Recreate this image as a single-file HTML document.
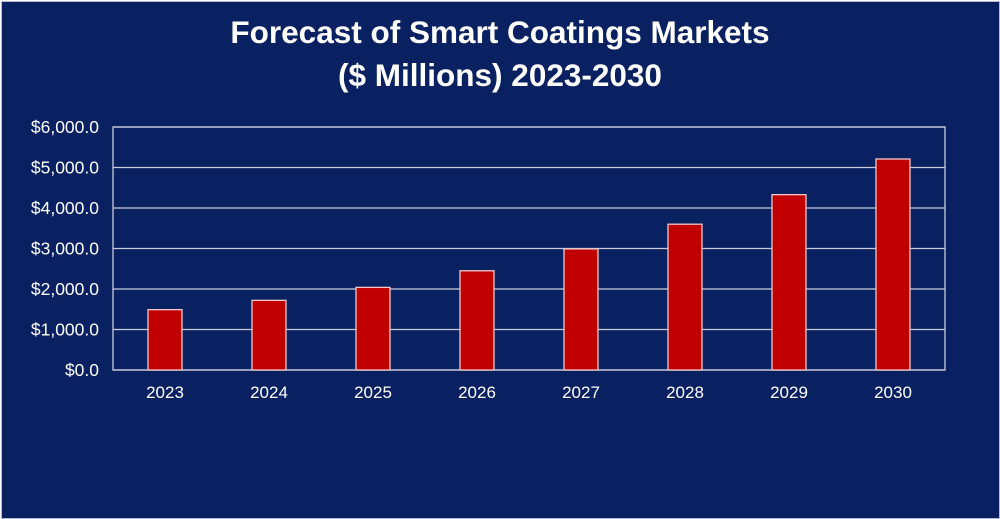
<!DOCTYPE html>
<html><head><meta charset="utf-8"><style>
html,body{margin:0;padding:0;}
body{width:1000px;height:519px;background:#fff;overflow:hidden;font-family:"Liberation Sans",sans-serif;}
#wrap{position:absolute;left:1px;top:1px;width:997px;height:516px;background:#0a2161;border:1px solid #b8bcc8;}
</style></head><body>
<div id="wrap">
<svg id="chart" width="1000" height="519" style="position:absolute;left:-2px;top:-2px">
<text x="500" y="43" text-anchor="middle" fill="#fff" font-size="31.5" font-weight="bold">Forecast of Smart Coatings Markets</text>
<text x="500" y="86" text-anchor="middle" fill="#fff" font-size="31.5" font-weight="bold">($ Millions) 2023-2030</text>
<g id="grid"></g><g id="bars"></g><g id="labels"></g>
</svg>
</div>
<script>
const categories=["2023","2024","2025","2026","2027","2028","2029","2030"];
const values=[1490,1720,2040,2450,2990,3600,4330,5210];
const yTicks=[0,1000,2000,3000,4000,5000,6000];
const yTickLabels=["$0.0","$1,000.0","$2,000.0","$3,000.0","$4,000.0","$5,000.0","$6,000.0"];
const L=113,R=945,T=127,B=370,yMax=6000;
const ns="http://www.w3.org/2000/svg";
function y(v){return B-(v/yMax)*(B-T);}
function xc(i){return L+(i+0.5)*(R-L)/categories.length;}
function mk(tag,attrs,parent){const e=document.createElementNS(ns,tag);for(const k in attrs)e.setAttribute(k,attrs[k]);parent.appendChild(e);return e;}
const grid=document.getElementById('grid'),bars=document.getElementById('bars'),labels=document.getElementById('labels');
yTicks.forEach((t,i)=>{
 const l=mk('line',{x1:L,x2:R,y1:y(t),y2:y(t),stroke:'#c8ccd8','stroke-width':1.3},grid);
 
 
 const tx=mk('text',{x:L-14,y:y(t)+6,'text-anchor':'end',fill:'#fff','font-size':17.5},labels);
 tx.textContent=yTickLabels[i];
 
 
});
const fr=mk('rect',{x:L,y:T,width:R-L,height:B-T,fill:'none',stroke:'#c8ccd8','stroke-width':1.3},grid);


const bw=34;
categories.forEach((c,i)=>{
 const r=mk('rect',{x:xc(i)-bw/2,y:y(values[i]),width:bw,height:B-y(values[i]),fill:'#c00000',stroke:'#f0c8cc','stroke-width':1.3},bars);
 
 
 const tx=mk('text',{x:xc(i),y:B+28,'text-anchor':'middle',fill:'#fff','font-size':17},labels);
 tx.textContent=c;
 
 
});
</script>
</body></html>
